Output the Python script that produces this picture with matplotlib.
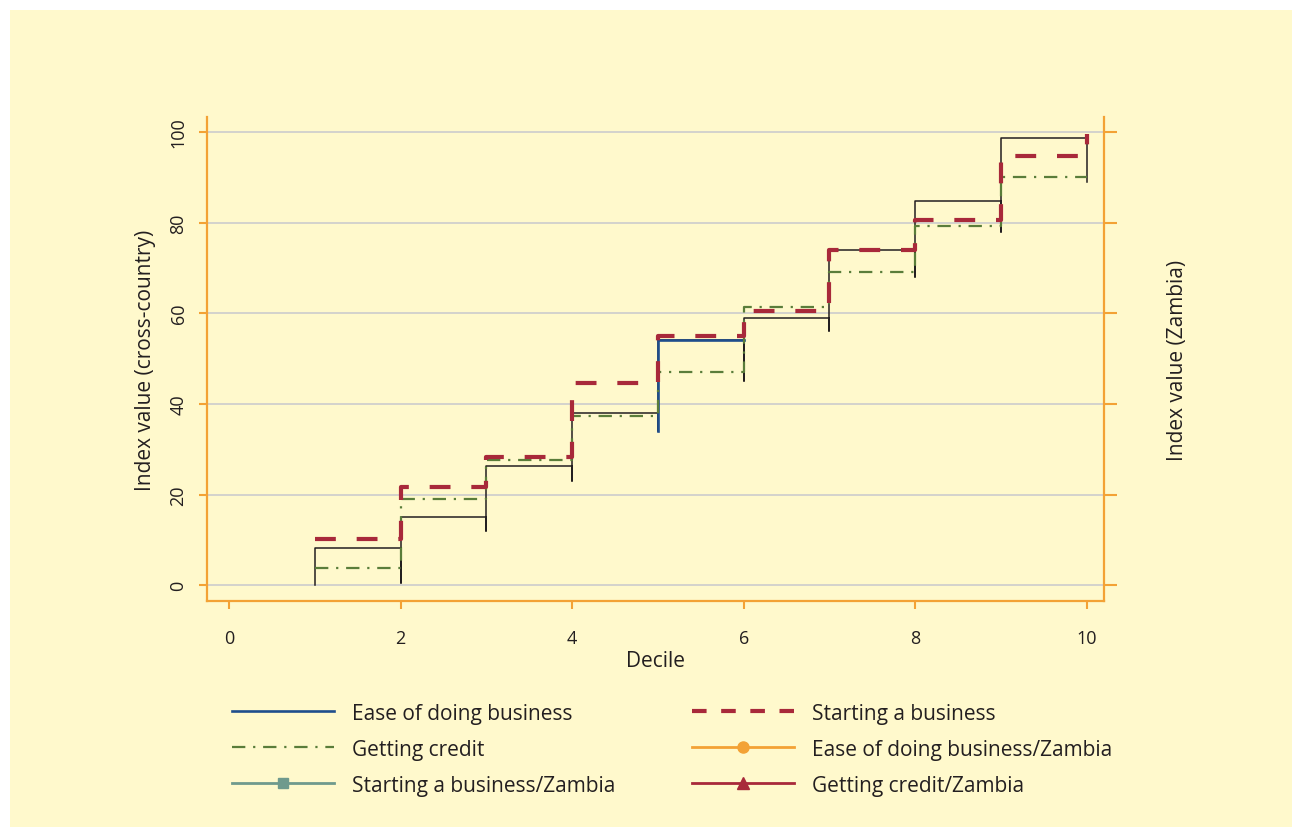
import matplotlib.pyplot as plt
from matplotlib.patches import Rectangle
import numpy as np

plt.rcParams['font.family'] = ['Open Sans', 'DejaVu Sans']

# Deciles (step starts) and index values
deciles = [1, 2, 3, 4, 5, 6, 7, 8, 9, 10]

# Cross-country distribution (thin black line): top of each step and the lower end of each riser
dist_top = [8.2, 15.0, 26.3, 38.0, 54.0, 58.9, 74.0, 84.8, 98.7]
dist_low = [0.0, 0.5, 12.0, 23.0, 34.0, 45.0, 56.0, 68.0, 78.0, 89.0]

# Ease of doing business (only the decile-5 segment shows in blue)
ease_x = [5, 5, 6]
ease_y = [34.0, 54.0, 54.0]

# Starting a business
starting = [10.2, 21.6, 28.3, 44.6, 55.0, 60.5, 74.0, 80.6, 94.7, 99.5]

# Getting credit
credit = [3.7, 19.0, 27.6, 37.3, 47.1, 61.4, 69.1, 79.2, 90.1, 90.1]

# Zambia series (no points visible in the chart)
ease_zambia = []
starting_zambia = []
credit_zambia = []

bg = '#FFF9CC'
orange = '#F3A235'
txt = '#231F20'

fig = plt.figure(figsize=(12.92, 8.28), dpi=100, facecolor='white')
fig.patches.append(Rectangle((10 / 1292, -0.1), 1.2, 1.1 - 11 / 828, transform=fig.transFigure,
                             facecolor=bg, edgecolor='none', zorder=-10))

ax = fig.add_axes([207 / 1292, 1 - 602 / 828, (1104 - 207) / 1292, (602 - 118) / 828])
ax.set_facecolor(bg)

# build the black outline path from the step data
bx, by = [], []
for i in range(len(dist_top)):
    bx += [deciles[i], deciles[i], deciles[i + 1]]
    by += [dist_low[i], dist_top[i], dist_top[i]]
bx.append(deciles[-1])
by.append(dist_low[-1])
ax.plot(bx, by, color=txt, lw=1.1, zorder=3)

ax.plot(ease_x, ease_y, color='#1F4E8C', lw=1.9, zorder=4)
ax.step(deciles, starting, where='post', color='#A8293A', lw=3.0,
        dashes=(5, 5), zorder=5)
ax.step(deciles, credit, where='post', color='#5A7D3A', lw=1.6,
        dashes=(6, 3.5, 1, 3.5), zorder=4)

ax.set_xlim(-0.256, 10.2)
ax.set_ylim(-3.5, 103.3)
ax.set_xticks(np.arange(0, 11, 2))
ax.set_yticks(np.arange(0, 101, 20))
ax.grid(axis='y', color='#CCCCCC', lw=1.2)
ax.set_axisbelow(True)

for s in ['left', 'bottom', 'right']:
    ax.spines[s].set_color(orange)
    ax.spines[s].set_linewidth(1.6)
ax.spines['top'].set_visible(False)
ax.tick_params(axis='both', colors=orange, length=6, width=1.5, labelsize=13,
               labelcolor=txt)
ax.tick_params(axis='y', pad=8)
ax.tick_params(axis='x', pad=14)
for lab in ax.get_yticklabels():
    lab.set_rotation(90)
    lab.set_va('center')

ax.set_xlabel('Decile', fontsize=15, color=txt, labelpad=2)
ax.set_ylabel('Index value (cross-country)', fontsize=15, color=txt, labelpad=10)

ax2 = ax.twinx()
ax2.set_ylim(ax.get_ylim())
ax2.set_yticks(np.arange(0, 101, 20))
ax2.tick_params(axis='y', colors=orange, length=9, width=1.5, labelright=False)
for s in ax2.spines.values():
    s.set_visible(False)
ax2.set_ylabel('Index value (Zambia)', fontsize=15, color=txt, labelpad=36)

ax2.plot(ease_zambia, ease_zambia, color=orange, marker='o', lw=2, ms=8)
ax2.plot(starting_zambia, starting_zambia, color='#6F9A8D', marker='s', lw=2, ms=7)
ax2.plot(credit_zambia, credit_zambia, color='#A8293A', marker='^', lw=2, ms=9)

h_ease, = ax.plot([], [], color='#1F4E8C', lw=1.9)
h_start, = ax.plot([], [], color='#A8293A', lw=3.0, dashes=(3.5, 3.5))
h_credit, = ax.plot([], [], color='#5A7D3A', lw=1.6, dashes=(6, 3.5, 1, 3.5))
z = ax2.get_lines()
handles = [h_ease, h_credit, z[1], h_start, z[0], z[2]]
labels = ['Ease of doing business', 'Getting credit', 'Starting a business/Zambia',
          'Starting a business', 'Ease of doing business/Zambia', 'Getting credit/Zambia']
fig.legend(handles, labels, loc='upper left', bbox_to_anchor=(213 / 1292, 1 - 685 / 828),
           ncol=2, frameon=False, fontsize=15, handlelength=4.9, handletextpad=0.85,
           columnspacing=3.7, labelspacing=0.72, labelcolor=txt)

fig.savefig('out.png', dpi=100, facecolor='white')
